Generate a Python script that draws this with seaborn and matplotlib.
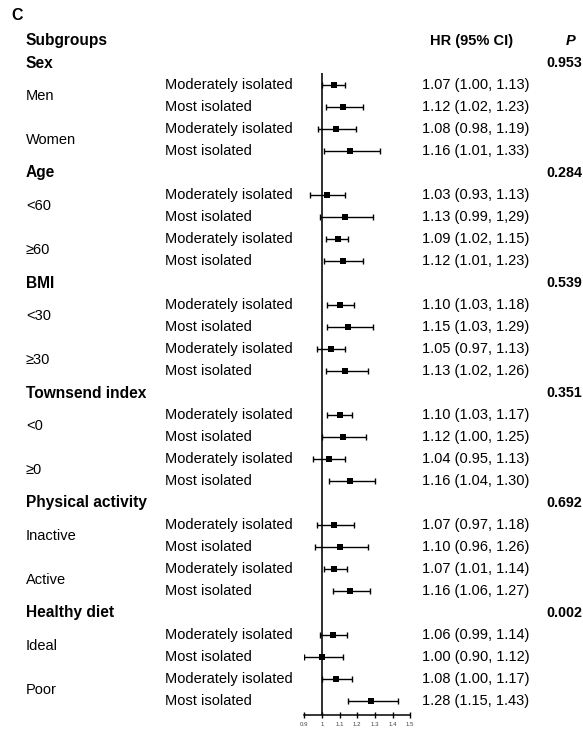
import matplotlib
matplotlib.use("Agg")
import matplotlib.pyplot as plt
import matplotlib.transforms as mtransforms
import numpy as np
import pandas as pd
import seaborn as sns

# ---- data -------------------------------------------------------------
groups = ["Sex", "Age", "BMI", "Townsend index", "Physical activity", "Healthy diet"]
p_values = ["0.953", "0.284", "0.539", "0.351", "0.692", "0.002"]
strata = [["Men", "Women"], ["<60", "\u226560"], ["<30", "\u226530"],
          ["<0", "\u22650"], ["Inactive", "Active"], ["Ideal", "Poor"]]
levels = ["Moderately isolated", "Most isolated"]

hr = [1.07, 1.12, 1.08, 1.16,
      1.03, 1.13, 1.09, 1.12,
      1.10, 1.15, 1.05, 1.13,
      1.10, 1.12, 1.04, 1.16,
      1.07, 1.10, 1.07, 1.16,
      1.06, 1.00, 1.08, 1.28]
ci_low = [1.00, 1.02, 0.98, 1.01,
          0.93, 0.99, 1.02, 1.01,
          1.03, 1.03, 0.97, 1.02,
          1.03, 1.00, 0.95, 1.04,
          0.97, 0.96, 1.01, 1.06,
          0.99, 0.90, 1.00, 1.15]
ci_high = [1.13, 1.23, 1.19, 1.33,
           1.13, 1.29, 1.15, 1.23,
           1.18, 1.29, 1.13, 1.26,
           1.17, 1.25, 1.13, 1.30,
           1.18, 1.26, 1.14, 1.27,
           1.14, 1.12, 1.17, 1.43]
x_ticks = [0.9, 1.0, 1.1, 1.2, 1.3, 1.4, 1.5]
x_ticklabels = ["0.9", "1", "1.1", "1.2", "1.3", "1.4", "1.5"]

# ---- table layout: one row per line of text ---------------------------
rows = []
r = 1
k = 0
for g, strat in zip(groups, strata):
    r += 1
    for s in strat:
        for lv in levels:
            rows.append(dict(group=g, stratum=s, level=lv, row=r,
                             hr=hr[k], lo=ci_low[k], hi=ci_high[k]))
            r += 1
            k += 1
df = pd.DataFrame(rows)
df["label"] = [f"{a:.2f} ({b:.2f}, {c:.2f})" for a, b, c in zip(df.hr, df.lo, df.hi)]
# the printed table carries a comma in this one entry
df.loc[5, "label"] = df.loc[5, "label"].replace("1.29)", "1,29)")

sns.set_theme(style="white")
plt.rcParams["font.family"] = ["Liberation Sans", "DejaVu Sans"]
plt.rcParams["text.color"] = "black"

W, H = 583, 730
fig = plt.figure(figsize=(W / 100, H / 100), dpi=100)
fig.patch.set_facecolor("white")

x_left, x_right = 304.3, 410.3
row0_px, pitch = 41.0, 22.0
axis_px = 715.0
ax = fig.add_axes([x_left / W, (H - axis_px) / H, (x_right - x_left) / W, axis_px / H])
ax.set_facecolor("none")
ax.set_xlim(0.9, 1.5)
ax.set_ylim((axis_px - row0_px) / pitch, -row0_px / pitch)

# reference line at HR = 1
ax.plot([1, 1], [(73 - row0_px) / pitch, (axis_px - row0_px) / pitch],
        color="black", lw=1.15, solid_capstyle="butt", zorder=1)

# confidence intervals and point estimates
ax.errorbar(df.hr, df.row, xerr=[df.hr - df.lo, df.hi - df.hr], fmt="none",
            ecolor="black", elinewidth=1.0, capsize=1.9, capthick=1.0, zorder=2)
sns.scatterplot(data=df, x="hr", y="row", marker="s", s=13, color="black",
                edgecolor="black", linewidth=0, ax=ax, zorder=3, legend=False)

for sp in ["top", "right", "left"]:
    ax.spines[sp].set_visible(False)
ax.spines["bottom"].set_linewidth(1.1)
ax.spines["bottom"].set_color("black")
ax.set_yticks([])
ax.set_xticks(x_ticks)
ax.set_xticklabels(x_ticklabels, fontsize=4.4, color="#444444")
ax.tick_params(axis="x", direction="inout", length=4.5, width=1.0, color="black",
               pad=2.5, bottom=True)
ax.set_xlabel("")
ax.set_ylabel("")

# ---- text columns ------------------------------------------------------
tr = mtransforms.blended_transform_factory(fig.transFigure, ax.transData)
def fx(px):
    return px / W

fig.text(fx(11), 1 - 15 / H, "C", fontsize=11.5, fontweight="bold", va="center", ha="left")
ax.text(fx(26), 0, "Subgroups", transform=tr, fontsize=11.2, fontweight="bold",
        va="center", ha="left")
ax.text(fx(471.5), 0, "HR (95% CI)", transform=tr, fontsize=10.5, fontweight="bold",
        va="center", ha="center")
ax.text(fx(571), 0, "P", transform=tr, fontsize=10.5, fontweight="bold",
        style="italic", va="center", ha="center")

r = 1
for g, pv, strat in zip(groups, p_values, strata):
    ax.text(fx(26), r, g, transform=tr, fontsize=11.2, fontweight="bold",
            va="center", ha="left")
    ax.text(fx(582), r, pv, transform=tr, fontsize=10.3, fontweight="bold",
            va="center", ha="right")
    for i, s in enumerate(strat):
        ax.text(fx(26), r + 1.5 + 2 * i, s, transform=tr, fontsize=10.5,
                va="center", ha="left")
    r += 5

for _, row in df.iterrows():
    ax.text(fx(165), row.row, row.level, transform=tr, fontsize=10.5,
            va="center", ha="left")
    ax.text(fx(421.7), row.row, row.label, transform=tr, fontsize=10.5,
            va="center", ha="left")

fig.savefig("out.png", dpi=100, facecolor="white")
